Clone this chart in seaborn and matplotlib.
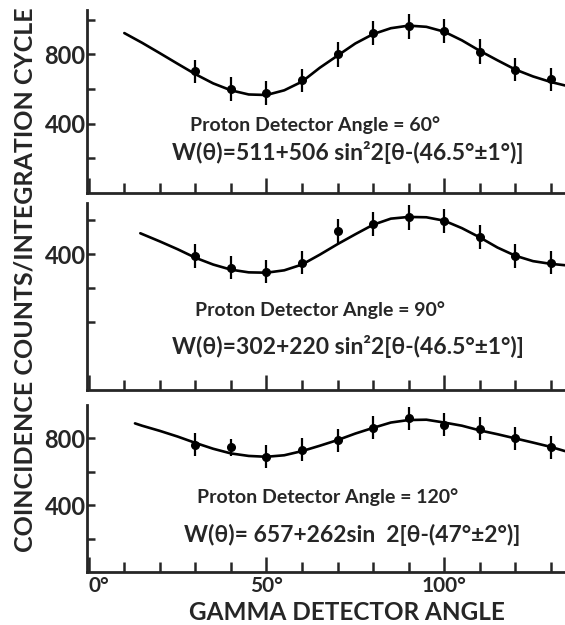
import matplotlib
matplotlib.use("Agg")
import matplotlib.pyplot as plt
from matplotlib.ticker import FixedLocator, FixedFormatter
import seaborn as sns

# measured points (gamma detector angle, counts)
angles = [30, 40, 50, 60, 70, 80, 90, 100, 110, 120, 130]
counts_60 = [701, 600, 577, 649, 799, 922, 961, 932, 815, 711, 655]
counts_90 = [394, 360, 348, 374, 468, 488, 508, 498, 449, 394, 375]
counts_120 = [762, 747, 690, 733, 790, 863, 920, 882, 857, 800, 747]
err_60 = [68, 68, 68, 68, 70, 70, 72, 70, 70, 68, 68]
err_90 = [34, 34, 34, 34, 35, 35, 36, 35, 35, 34, 34]
err_120 = [69, 50, 69, 69, 69, 69, 70, 70, 69, 69, 69]

# fitted curves
fit_ang_60 = [10, 15, 20, 25, 30, 35, 40, 45, 50, 55, 60, 65, 70, 75, 80, 85, 90,
              95, 100, 105, 110, 115, 120, 125, 130, 134]
fit_60 = [922, 866, 806, 745, 685, 632, 592, 568, 565, 592, 642, 722, 792, 862, 916,
          950, 965, 958, 930, 880, 820, 765, 712, 672, 640, 620]
fit_ang_90 = [14.5, 20, 25, 30, 35, 40, 45, 50, 55, 60, 65, 70, 75, 80, 85, 90,
              95, 100, 105, 110, 115, 120, 125, 130, 134]
fit_90 = [461, 437, 414, 389, 369, 354, 346, 345, 352, 369, 398, 429, 458, 486, 504,
          509, 508, 498, 476, 449, 419, 395, 379, 371, 367]
fit_ang_120 = [13, 15, 20, 25, 30, 35, 40, 45, 50, 55, 60, 65, 70, 75, 80, 85, 90,
               95, 100, 105, 110, 115, 120, 125, 130, 134]
fit_120 = [890, 876, 845, 811, 773, 738, 710, 695, 690, 699, 724, 756, 790, 829, 863,
           895, 910, 912, 895, 876, 848, 825, 800, 775, 749, 724]

titles = ["Proton Detector Angle = 60°", "Proton Detector Angle = 90°",
          "Proton Detector Angle = 120°"]
formulas = ["W(θ)=511+506 sin²2[θ-(46.5°±1°)]",
            "W(θ)=302+220 sin²2[θ-(46.5°±1°)]",
            "W(θ)= 657+262sin  2[θ-(47°±2°)]"]
x_tick_labels = ["0°", "50°", "100°"]

sns.set_style("ticks")
plt.rcParams["font.family"] = ["Lato", "DejaVu Sans"]

fig = plt.figure(figsize=(5.65, 6.25), dpi=100)
W, H = 565, 625
left = 87 / W
width = 1 - left

# (bottom px, top px) of each panel
boxes = [(193, 10), (390, 203), (572, 405)]
ylims = [(0, 1055), (0, 550), (0, 1000)]
yticks = [[200, 400, 600, 800, 1000], [200, 300, 400, 500], [200, 400, 600, 800]]
ylabels_shown = [["", "400", "", "800", ""], ["", "", "400", ""], ["", "400", "", "800"]]
text_pos = [((0.215, 0.372), (0.178, 0.224)),
            ((0.226, 0.428), (0.178, 0.230)),
            ((0.230, 0.449), (0.203, 0.222))]

data = [(counts_60, err_60, fit_ang_60, fit_60),
        (counts_90, err_90, fit_ang_90, fit_90),
        (counts_120, err_120, fit_ang_120, fit_120)]

for i, (bot, top) in enumerate(boxes):
    ax = fig.add_axes([left, 1 - bot / H, width, (bot - top) / H])
    counts, err, fang, fval = data[i]
    sns.lineplot(x=fang, y=fval, ax=ax, color="black", lw=1.9)
    ax.errorbar(angles, counts, yerr=err, fmt="o", color="black", ms=5.5,
                elinewidth=1.6, capsize=0)
    ax.set_xlim(-0.5, 134)
    ax.set_ylim(*ylims[i])
    sns.despine(ax=ax)
    for s in ["left", "bottom"]:
        ax.spines[s].set_linewidth(2.0)

    ax.xaxis.set_major_locator(FixedLocator([0, 50, 100]))
    ax.xaxis.set_minor_locator(FixedLocator([10, 20, 30, 40, 60, 70, 80, 90, 110, 120, 130]))
    ax.tick_params(axis="x", which="major", direction="in", length=11, width=1.8, pad=3)
    ax.tick_params(axis="x", which="minor", direction="in", length=7.5, width=1.8)
    if i == 2:
        ax.set_xticklabels(x_tick_labels, fontsize=15, fontweight="bold")
        ax.get_xticklabels()[0].set_ha("left")
    else:
        ax.set_xticklabels([])

    ax.yaxis.set_major_locator(FixedLocator(yticks[i]))
    ax.yaxis.set_major_formatter(FixedFormatter(ylabels_shown[i]))
    ax.tick_params(axis="y", direction="in", length=6, width=1.8, labelsize=17, pad=1)
    for lab in ax.get_yticklabels():
        lab.set_fontweight("bold")
    ax.set_ylabel("")

    (tx, ty), (fx, fy) = text_pos[i]
    ax.text(tx, ty, titles[i], transform=ax.transAxes, ha="left", va="center",
            fontsize=14, fontweight="bold")
    ax.text(fx, fy, formulas[i], transform=ax.transAxes, ha="left", va="center",
            fontsize=16.5, fontweight="bold")

fig.text(347 / W, 1 - 613 / H, "GAMMA DETECTOR ANGLE", ha="center", va="center",
         fontsize=17.5, fontweight="bold")
fig.text(0.044, 0.552, "COINCIDENCE COUNTS/INTEGRATION CYCLE", rotation=90,
         ha="center", va="center", fontsize=18, fontweight="bold")

fig.savefig("out.png", dpi=100)
